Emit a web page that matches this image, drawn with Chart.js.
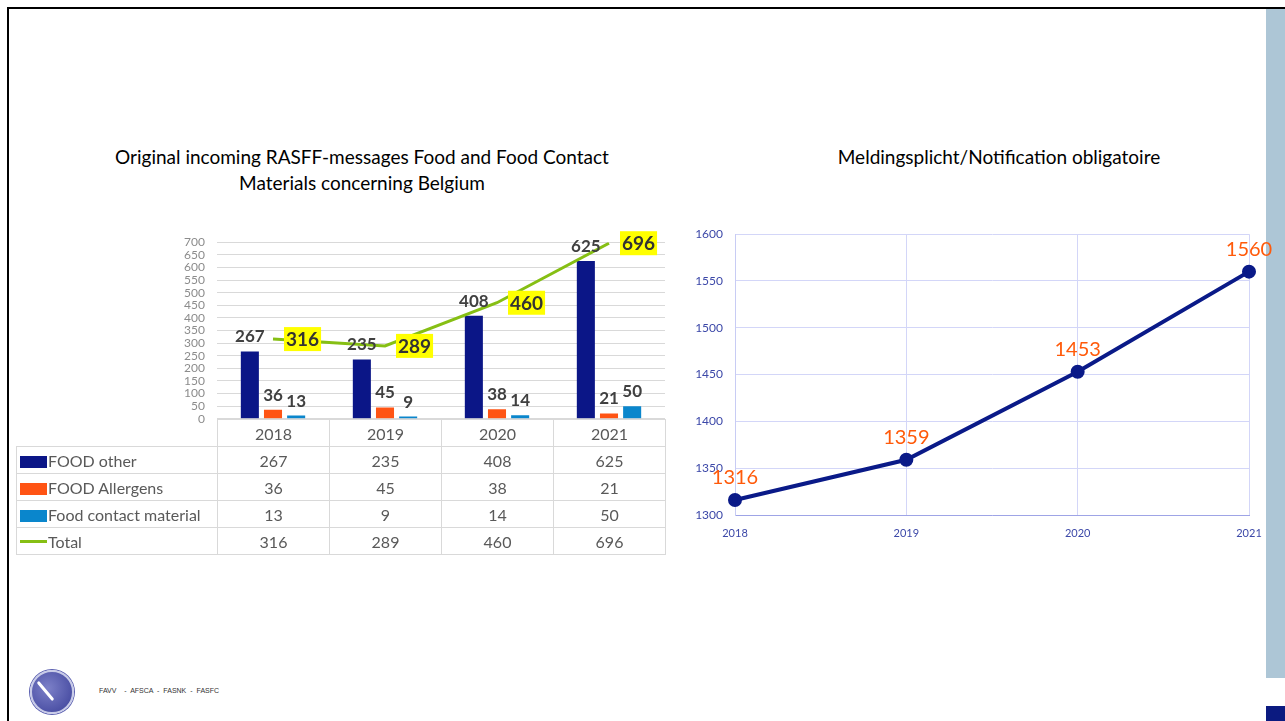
<!DOCTYPE html>
<html>
<head>
<meta charset="utf-8">
<script src="https://cdn.jsdelivr.net/npm/chart.js@4"></script>
<style>
  body { margin: 0; width: 1285px; height: 721px; position: relative; overflow: hidden; background: #fff; font-family: Lato, 'Open Sans', sans-serif; }
  .abs { position: absolute; }
  .title { position: absolute; font-size: 19px; color: #000; text-align: center; line-height: 26px; }
  #dataTable { position: absolute; left: 16px; top: 419px; border-collapse: collapse; font-size: 16px; color: #595959; }
  #dataTable td { border: 1px solid #d9d9d9; height: 26px; padding: 0; text-align: center; width: 111px; }
  #dataTable td.lab { width: 200px; text-align: left; white-space: nowrap; }
  #dataTable td.blank { border-top: none; border-left: none; }
  .sw { display: inline-block; width: 27px; height: 12px; margin: 0 1px 0 3px; vertical-align: -1px; }
  .swl { display: inline-block; width: 27px; height: 3px; margin: 0 1px 0 3px; vertical-align: 5px; }
</style>
</head>
<body>
<div class="abs" style="left:8px;top:7px;width:1277px;height:2px;background:#000"></div>
<div class="abs" style="left:7px;top:7px;width:2px;height:714px;background:#000"></div>
<div class="abs" style="left:1266px;top:9px;width:19px;height:669px;background:#adc6d6"></div>
<div class="abs" style="left:1266px;top:706px;width:19px;height:15px;background:#0b1a80"></div>

<div class="title" style="left:62px;top:144px;width:600px">Original incoming RASFF-messages Food and Food Contact<br>Materials concerning Belgium</div>
<div class="title" style="left:749px;top:144px;width:500px">Meldingsplicht/Notification obligatoire</div>

<div class="abs" style="left:170px;top:223px;width:500px;height:215px"><canvas id="rasffChart"></canvas></div>
<table id="dataTable"></table>

<div class="abs" style="left:690px;top:215px;width:595px;height:332px"><canvas id="meldChart"></canvas></div>

<div class="abs" style="left:30px;top:670px;width:40px;height:40px;border-radius:50%;background:radial-gradient(circle at 40% 40%, #7c80c8, #3a3f98);border:2px solid #c8cbe8;box-shadow:0 0 0 1px #5a5fb0"></div>
<div class="abs" style="left:44px;top:679px;width:3px;height:24px;background:#fff;transform:rotate(-40deg);border-radius:2px"></div>
<div class="abs" style="left:99px;top:687px;font-size:7px;color:#333;font-family:'Liberation Sans',sans-serif;word-spacing:2px">FAVV &nbsp;- AFSCA - FASNK - FASFC</div>

<script>
const years = ['2018', '2019', '2020', '2021'];
const foodOther = [267, 235, 408, 625];
const foodAllergens = [36, 45, 38, 21];
const foodContact = [13, 9, 14, 50];
const totals = [316, 289, 460, 696];

const meldYears = ['2018', '2019', '2020', '2021'];
const meldValues = [1316, 1359, 1453, 1560];

// table under the left chart
const rows = [
    { name: 'FOOD other', color: '#0b1687', values: foodOther },
    { name: 'FOOD Allergens', color: '#ff5414', values: foodAllergens },
    { name: 'Food contact material', color: '#0a86cc', values: foodContact },
    { name: 'Total', color: '#86bf14', values: totals, line: true }
];
const table = document.getElementById('dataTable');
let html = '<tr><td class="lab blank"></td>' + years.map(y => '<td>' + y + '</td>').join('') + '</tr>';
rows.forEach(r => {
    const mark = r.line ? '<span class="swl" style="background:' + r.color + '"></span>'
                        : '<span class="sw" style="background:' + r.color + '"></span>';
    html += '<tr><td class="lab">' + mark + r.name + '</td>' + r.values.map(v => '<td>' + v + '</td>').join('') + '</tr>';
});
table.innerHTML = html;

const valueLabels = {
    id: 'valueLabels',
    afterDatasetsDraw(chart) {
        const ctx = chart.ctx;
        ctx.save();
        chart.data.datasets.forEach((ds, i) => {
            const meta = chart.getDatasetMeta(i);
            meta.data.forEach((el, j) => {
                const txt = String(ds.data[j]);
                if (ds.type === 'line') {
                    ctx.font = 'bold 19px Lato';
                    const w = ctx.measureText(txt).width;
                    const x = el.x + 11, y = el.y;
                    ctx.fillStyle = '#ffff00';
                    ctx.fillRect(x, y - 12, w + 4, 24);
                    ctx.fillStyle = '#333333';
                    ctx.textAlign = 'left';
                    ctx.textBaseline = 'middle';
                    ctx.fillText(txt, x + 2, y + 1);
                } else {
                    ctx.font = 'bold 17px Lato';
                    ctx.fillStyle = '#404040';
                    ctx.textAlign = 'center';
                    ctx.textBaseline = 'bottom';
                    ctx.fillText(txt, el.x, el.y - 6);
                }
            });
        });
        ctx.restore();
    }
};

const rasffCtx = document.getElementById('rasffChart').getContext('2d');
const rasffChart = new Chart(rasffCtx, {
    type: 'bar',
    data: {
        labels: years,
        datasets: [{
            type: 'line',
            label: 'Total',
            data: totals,
            borderColor: '#86bf14',
            borderWidth: 3,
            pointRadius: 0,
            tension: 0,
            order: 0
        }, {
            label: 'FOOD other',
            data: foodOther,
            backgroundColor: '#0b1687',
            order: 1
        }, {
            label: 'FOOD Allergens',
            data: foodAllergens,
            backgroundColor: '#ff5414',
            order: 1
        }, {
            label: 'Food contact material',
            data: foodContact,
            backgroundColor: '#0a86cc',
            order: 1
        }]
    },
    options: {
        responsive: true,
        maintainAspectRatio: false,
        animation: false,
        categoryPercentage: 0.62,
        barPercentage: 0.78,
        layout: { padding: { top: 15, right: 5, bottom: 6, left: 0 } },
        plugins: { legend: { display: false }, tooltip: { enabled: false } },
        scales: {
            x: { display: false },
            y: {
                min: 0, max: 700,
                afterFit: s => { s.width = 47; },
                border: { display: false },
                grid: { color: '#d9d9d9', drawTicks: false },
                ticks: { stepSize: 50, autoSkip: false, padding: 12, color: '#8c8c8c', font: { family: 'Lato', size: 12 } }
            }
        }
    },
    plugins: [valueLabels]
});

const pointLabels = {
    id: 'pointLabels',
    afterDatasetsDraw(chart) {
        const ctx = chart.ctx;
        ctx.save();
        ctx.font = '20px Lato';
        ctx.fillStyle = '#ff5a0a';
        ctx.textAlign = 'center';
        ctx.textBaseline = 'middle';
        chart.getDatasetMeta(0).data.forEach((el, j) => {
            ctx.fillText(String(chart.data.datasets[0].data[j]), el.x, el.y - 22);
        });
        ctx.restore();
    }
};

const meldCtx = document.getElementById('meldChart').getContext('2d');
const meldChart = new Chart(meldCtx, {
    type: 'line',
    data: {
        labels: meldYears,
        datasets: [{
            label: 'Meldingsplicht',
            data: meldValues,
            borderColor: '#0a1a88',
            backgroundColor: '#0a1a88',
            borderWidth: 4,
            pointRadius: 5,
            tension: 0,
            fill: false
        }]
    },
    options: {
        responsive: true,
        maintainAspectRatio: false,
        animation: false,
        layout: { padding: { top: 5, right: 36, bottom: 0, left: 0 } },
        plugins: { legend: { display: false }, tooltip: { enabled: false } },
        scales: {
            x: {
                offset: false,
                afterFit: s => { s.height = 32; },
                border: { color: '#9ea4e6' },
                grid: { color: '#d3d6f8', drawTicks: false },
                ticks: { padding: 12, color: '#3c48a8', maxRotation: 0, font: { family: 'Lato', size: 11 } }
            },
            y: {
                min: 1300, max: 1600,
                afterFit: s => { s.width = 45; },
                border: { color: '#c8ccf4' },
                grid: { color: '#d3d6f8', drawTicks: false },
                ticks: { stepSize: 50, padding: 12, color: '#3c48a8', font: { family: 'Lato', size: 12 }, callback: v => String(v) }
            }
        }
    },
    plugins: [pointLabels]
});
</script>
</body>
</html>
